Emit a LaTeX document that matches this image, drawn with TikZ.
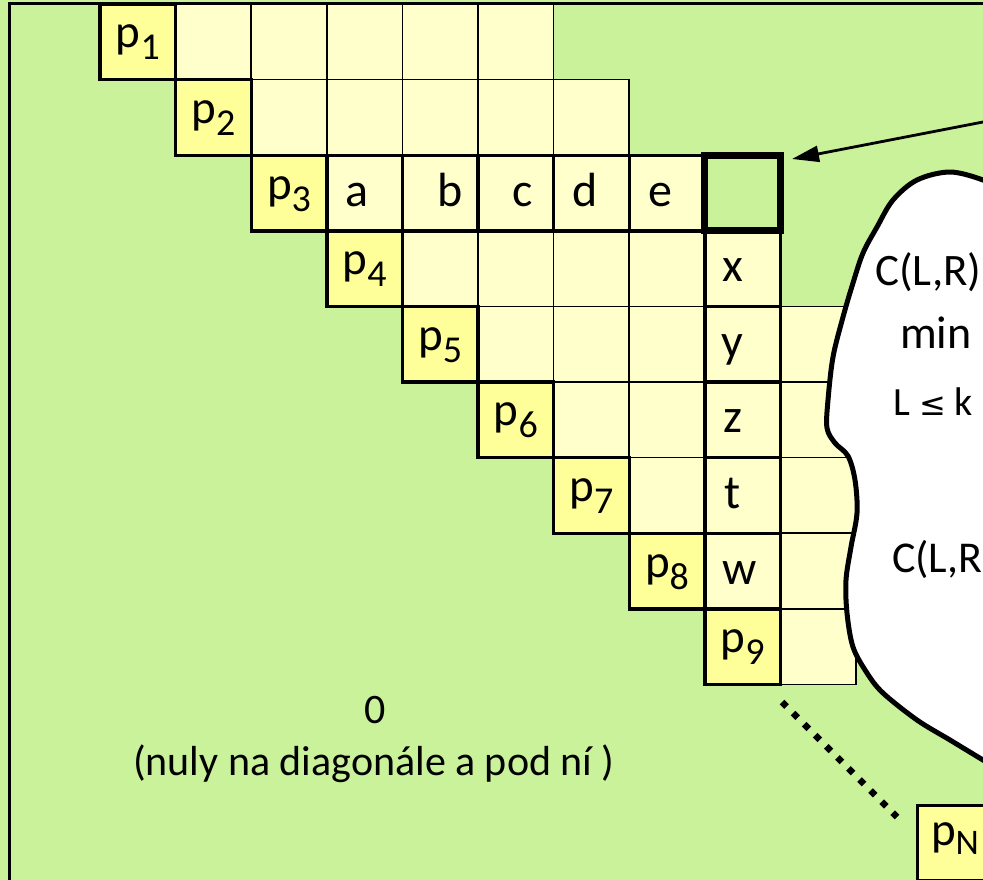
\documentclass[tikz,border=0pt]{standalone}
\usepackage{fontspec}
\setmainfont{Carlito}
\newfontfamily\mysymfont{DejaVu Sans}
\usetikzlibrary{arrows.meta}
\definecolor{bggreen}{HTML}{C9F29B}
\definecolor{cellyel}{HTML}{FFFFCC}
\definecolor{pyel}{HTML}{FFFF99}
\newcommand{\fsz}[1]{\fontsize{#1pt}{#1pt}\selectfont}
\newcommand{\psub}[1]{p\raisebox{-12pt}{\fsz{38}#1}}
\tikzset{
  cell/.style={rectangle, minimum width=75.6pt, minimum height=75.6pt, inner sep=0pt, outer sep=0pt,
               fill=cellyel, draw=black, line width=1.5pt},
  strongcell/.style={cell, line width=3.4pt},
  pcell/.style={cell, fill=pyel, line width=3.4pt},
  targetcell/.style={cell, fill=bggreen, line width=7pt},
  lbl/.style={anchor=base, inner sep=0pt, font=\fsz{48}},
  plbl/.style={anchor=base, inner sep=0pt, font=\fsz{47}},
  txt/.style={anchor=base, inner sep=0pt, font=\fsz{42}},
  cloudtxt/.style={anchor=base west, inner sep=0pt},
  cloud/.style={fill=white, draw=black, line width=5pt, line join=round},
  dotline/.style={line width=6.5pt, dash pattern=on 6.5pt off 9.16pt},
  pointer/.style={line width=2.8pt, -{Triangle[length=27pt, width=16pt]}},
}
\begin{document}
\begin{tikzpicture}[x=1pt, y=-1pt]
\useasboundingbox (0,0) rectangle (983,879);
\clip (0,0) rectangle (983,879);
\fill[bggreen] (-5,-5) rectangle (990,890);
\draw[line width=3pt] (9.5,3.5) rectangle (1020,920);

% thin cells
\foreach \r/\c in {0/1,0/2,0/3,0/4,0/5, 1/2,1/3,1/4,1/5,1/6, 3/4,3/5,3/6,3/7,
                   4/5,4/6,4/7,4/9, 5/6,5/7,5/9, 6/7,6/9, 7/9, 8/9}
  \node[cell] (c-\r-\c) at ({100+75.6*(\c+0.5)},{4+75.6*(\r+0.5)}) {};
% strong cells (row and column used)
\foreach \r/\c in {2/3,2/4,2/5,2/6,2/7, 3/8,4/8,5/8,6/8,7/8}
  \node[strongcell] (c-\r-\c) at ({100+75.6*(\c+0.5)},{4+75.6*(\r+0.5)}) {};
% diagonal cells
\foreach \k in {0,...,8}{
  \pgfmathtruncatemacro\n{\k+1}
  \node[pcell] (p-\n) at ({100+75.6*(\k+0.5)},{4+75.6*(\k+0.5)}) {};
  \node[plbl] (lp-\n) at ([yshift=-6pt]p-\n.center) {\psub{\n}};
}
% target cell
\node[targetcell] (target) at ({100+75.6*8.5},{4+75.6*2.5}) {};

% letters
\foreach \r/\c/\lab/\dx in {2/3/a/-8, 2/4/b/10, 2/5/c/7, 2/6/d/-6, 2/7/e/-7,
                            3/8/x/-10, 4/8/y/-10, 5/8/z/-10, 6/8/t/-10, 7/8/w/-3}
  \node[lbl] (l-\lab) at ([xshift=\dx pt, yshift=-13pt]c-\r-\c.center) {\lab};

% last diagonal cell
\node[pcell] (pN) at (955,843) {};
\node[plbl] (lpN) at ([yshift=-2pt]pN.center) {p\raisebox{-9pt}{\fsz{36}N}};

% dotted continuation of the diagonal
\coordinate (dotA) at (782,702);
\coordinate (dotB) at (897,817);
\draw[dotline] (dotA) -- (dotB);

% zeros text
\node[txt] (zero) at (375,723) {0};
\node[txt] (zerotxt) at (374,775) {(nuly na diagonále a pod ní )};

% cloud
\draw[cloud] plot[smooth, tension=0.55] coordinates {
  (1000,190) (983,180) (950,172) (917,180) (893,200) (877,227) (863,253) (853,283)
  (843,317) (833,357) (828,400) (827,428) (835,443) (848,456) (855,480) (857,513)
  (851,547) (846,580) (847,613) (853,647) (867,673) (883,693) (917,720) (950,740)
  (983,760) (1000,770)} -- (1060,800) -- (1060,160) -- cycle;

\node[cloudtxt, font=\fsz{45}] (f1) at (875,285) {C(L,R)};
\node[cloudtxt, font=\fsz{46}] (f2) at (900,348) {min};
\node[cloudtxt, font=\fsz{40}] (f3) at (893,415) {L {\mysymfont\fsz{32}≤} k};
\node[cloudtxt, font=\fsz{44}] (f4) at (892,572) {C(L,R};

% pointer arrow
\coordinate (arrowstart) at (1000,118.7);
\coordinate (arrowtip) at (792,159);
\draw[pointer] (arrowstart) -- (arrowtip);
\end{tikzpicture}
\end{document}
